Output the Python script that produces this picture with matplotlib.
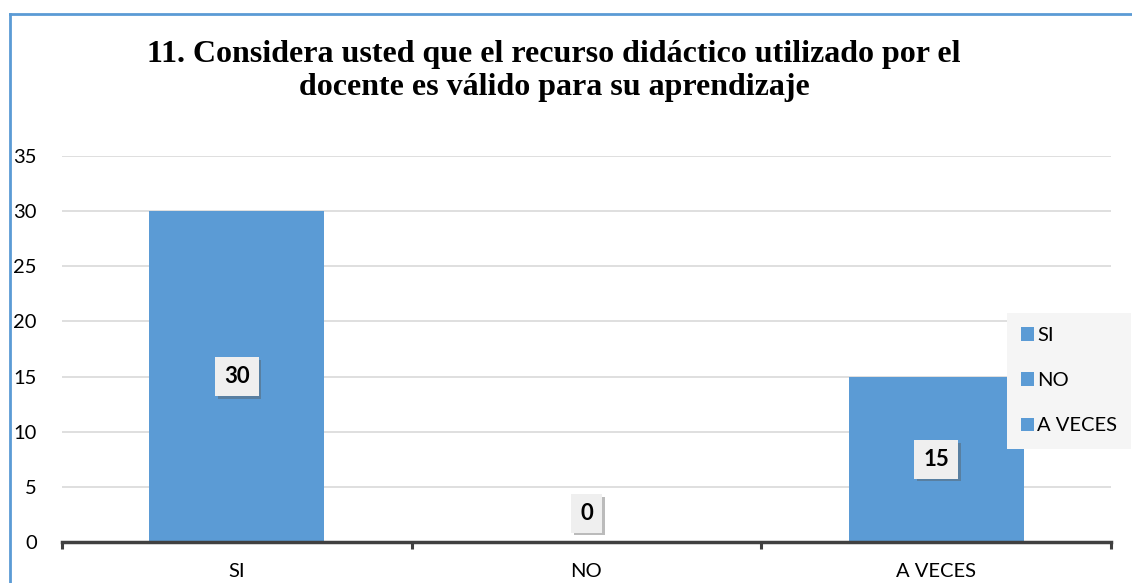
import matplotlib
matplotlib.use("Agg")
import matplotlib.pyplot as plt
import matplotlib.patheffects as pe
from matplotlib.lines import Line2D
from matplotlib.patches import Patch

plt.rcParams['font.family'] = ['Lato', 'DejaVu Sans']

categories = ["SI", "NO", "A VECES"]
values = [30, 0, 15]
yticks = [0, 5, 10, 15, 20, 25, 30, 35]
title = "11. Considera usted que el recurso didáctico utilizado por el\ndocente es válido para su aprendizaje"

blue = "#5B9BD5"

fig = plt.figure(figsize=(11.32, 5.83), dpi=100)
ax = fig.add_axes([62 / 1132, 1 - 542 / 583, (1111 - 62) / 1132, (542 - 156) / 583])

x = list(range(len(categories)))
ax.bar(x, values, width=0.5, color=blue, zorder=2)

ax.set_xlim(-0.5, len(categories) - 0.5)
ax.set_ylim(0, 35)
ax.set_yticks(yticks)
ax.yaxis.grid(True, color="#D9D9D9", linewidth=1.2, zorder=0)
ax.set_axisbelow(True)

ax.set_xticks(x)
ax.set_xticklabels(categories)
ax.set_xticks([i - 0.5 for i in range(len(categories) + 1)], minor=True)
ax.tick_params(axis="x", which="major", length=0, pad=15, labelsize=14.5)
ax.tick_params(axis="x", which="minor", length=5, width=2.2, color="#404040", direction="out")
ax.tick_params(axis="y", length=0, pad=18, labelsize=14.5)

for s in ["top", "right", "left"]:
    ax.spines[s].set_visible(False)
ax.spines["bottom"].set_color("#404040")
ax.spines["bottom"].set_linewidth(2.5)

# etiquetas de datos
for xi, v in zip(x, values):
    ypos = v / 2 if v > 0 else 2.6
    t = ax.text(xi, ypos, str(v), ha="center", va="center", fontsize=16,
                fontweight="bold", zorder=5,
                bbox=dict(boxstyle="square,pad=0.4", facecolor="#EFEFEF", edgecolor="none"))
    t.get_bbox_patch().set_path_effects([
        pe.SimplePatchShadow(offset=(2, -2), shadow_rgbFace="#555555", alpha=0.4),
        pe.Normal()])

fig.text(554 / 1132, 1 - 71 / 583, title, ha="center", va="center",
         multialignment="center", fontsize=23, fontweight="bold",
         family="Liberation Serif", linespacing=1.22)

handles = [Patch(facecolor=blue, edgecolor="none") for _ in categories]
leg = fig.legend(handles, categories, loc="upper left",
                 bbox_to_anchor=(1007 / 1132, 1 - 313 / 583),
                 frameon=True, fancybox=False, facecolor="#F5F5F5", edgecolor="none",
                 framealpha=1, fontsize=14.5, handlelength=0.65, handleheight=0.65,
                 handletextpad=0.15, labelspacing=1.4, borderpad=0.7,
                 borderaxespad=0)

# borde del grafico
fig.add_artist(Line2D([10 / 1132, 10 / 1132], [0, 1 - 14 / 583], color=blue, linewidth=2))
fig.add_artist(Line2D([10 / 1132, 1], [1 - 14 / 583, 1 - 14 / 583], color=blue, linewidth=2))

fig.savefig("out.png", dpi=100, facecolor="white")
